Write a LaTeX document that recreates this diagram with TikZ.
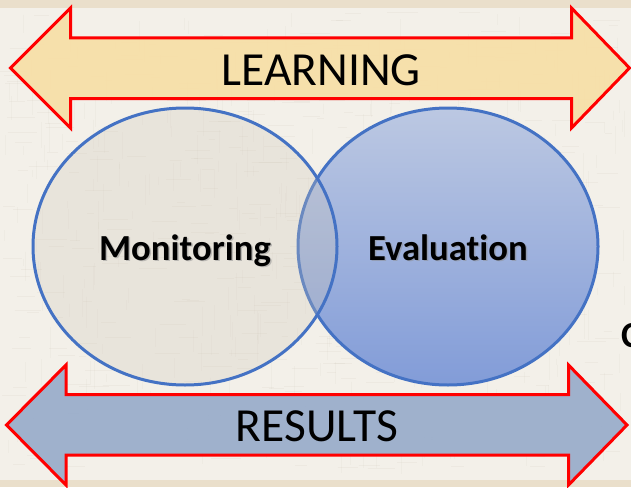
\documentclass[tikz,border=0pt]{standalone}
\usepackage{fontspec}
\setmainfont[Ligatures=NoCommon]{Carlito}
\definecolor{paper}{HTML}{F3F0E9}
\definecolor{band}{HTML}{EADFCB}
\definecolor{weave}{HTML}{B5AC9A}
\definecolor{bluel}{HTML}{4472C4}
\definecolor{evaltop}{HTML}{BCC8E2}
\definecolor{evalbot}{HTML}{829CD8}
\definecolor{learnfill}{HTML}{F7DFA6}
\definecolor{resfill}{HTML}{9BAECB}
\definecolor{monfill}{HTML}{CEC7B8}
\tikzset{
  x=1pt,y=-1pt,
  dblarrow/.style={draw=red,line width=3pt,miter limit=10},
  venn/.style={draw=bluel,line width=3pt},
  bigtext/.style={font=\fontsize{47.5}{52}\selectfont,text=black,inner sep=0pt},
  circtext/.style={font=\fontsize{36.7}{42}\selectfont\bfseries,text=black,inner sep=0pt,anchor=base},
  shadowtext/.style={circtext,text=black!45,opacity=.5},
}
\begin{document}
\begin{tikzpicture}
\useasboundingbox (0,0) rectangle (631,487);
\clip (0,0) rectangle (631,487);
\fill[paper] (0,0) rectangle (631,487);
% woven paper texture
\pgfmathsetseed{7}
\foreach \i in {1,...,420}{
  \pgfmathsetmacro{\px}{rnd*610}
  \pgfmathsetmacro{\py}{12+rnd*460}
  \pgfmathsetmacro{\pl}{6+rnd*26}
  \draw[weave,opacity=.09,line width=1pt] (\px,\py) -- ++(\pl,0);
  \pgfmathsetmacro{\qx}{rnd*625}
  \pgfmathsetmacro{\qy}{12+rnd*440}
  \draw[weave,opacity=.07,line width=1pt] (\qx,\qy) -- ++(0,\pl);
}
\fill[band] (0,0) rectangle (631,8);
\fill[band] (0,480) rectangle (631,487);
% Arrows
\draw[dblarrow,fill=learnfill,fill opacity=.92] (10.5,68) -- (70.5,8) -- (70.5,38) -- (571.5,38) -- (571.5,8) -- (629.5,68) -- (571.5,128) -- (571.5,98.5) -- (70.5,98.5) -- (70.5,128) -- cycle;
\draw[dblarrow,fill=resfill,fill opacity=.95] (6.5,425) -- (66,365) -- (66,394.5) -- (568.5,394.5) -- (568.5,365) -- (627,425) -- (568.5,485) -- (568.5,455) -- (66,455) -- (66,485) -- cycle;
% Venn: Evaluation below, translucent Monitoring above
\shade[top color=evaltop,bottom color=evalbot] (448,246.5) ellipse [x radius=150,y radius=138.5];
\draw[venn] (448,246.5) ellipse [x radius=150,y radius=138.5];
\fill[monfill,opacity=.28] (185,246.5) ellipse [x radius=152,y radius=138.5];
\draw[venn] (185,246.5) ellipse [x radius=152,y radius=138.5];
% Text
\node[bigtext] (learning) at (321,70) {LEARNING};
\node[bigtext] (results) at (317,426) {RESULTS};
\node[shadowtext] (monshadow) at (186.5,261.5) {Monitoring};
\node[shadowtext] (evalshadow) at (449.5,261.5) {Evaluation};
\node[circtext] (monitoring) at (185,260) {Monitoring};
\node[circtext] (evaluation) at (448,260) {Evaluation};
\node[circtext,anchor=base west] (cut) at (621,347) {C};
\end{tikzpicture}
\end{document}
